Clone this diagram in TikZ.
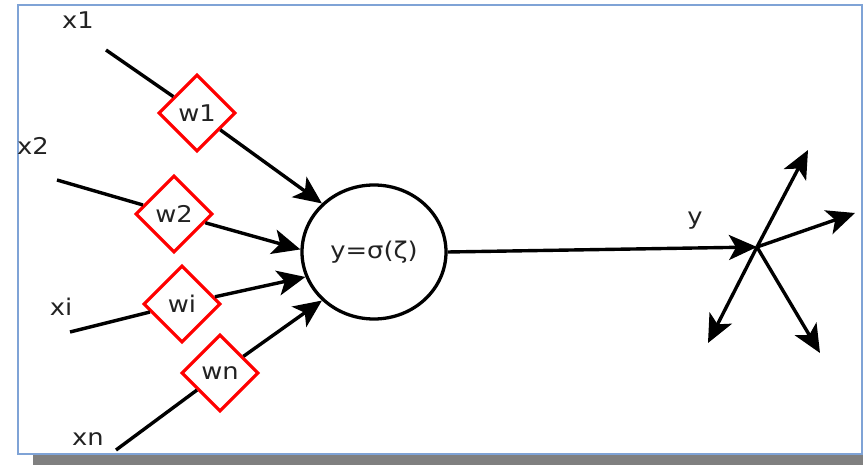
\documentclass[tikz,border=0pt]{standalone}
\usepackage{fontspec}
\setmainfont[FakeStretch=1.12]{DejaVu Sans}
\usetikzlibrary{shapes.geometric,arrows.meta}
\definecolor{framecol}{HTML}{7FA3D6}
\definecolor{shadowcol}{HTML}{808080}
\definecolor{txtcol}{HTML}{222222}
\tikzset{
  weight/.style={diamond,draw=red,line width=3.2pt,fill=white,minimum width=77pt,minimum height=77pt,inner sep=0pt,font=\fontsize{23}{23}\selectfont,text=txtcol},
  lbl/.style={inner sep=0pt,font=\fontsize{23}{23}\selectfont,text=txtcol},
  arr/.style={line width=3.4pt,-{Stealth[length=28pt,width=25pt,inset=7pt]}},
  neuronsty/.style={ellipse,draw,line width=3.3pt,minimum width=144pt,minimum height=134pt,inner sep=0pt,font=\fontsize{23}{23}\selectfont,text=txtcol}
}
\begin{document}
\begin{tikzpicture}[x=1pt,y=-1pt]
\useasboundingbox (0,0) rectangle (863,465);
\fill[shadowcol] (33,455) rectangle (863,465);
\draw[framecol,line width=1.2pt] (18,5) rectangle (862,454);

\node[neuronsty] (neuron) at (374,252) {y=σ(ζ)};

\node[weight] (w1) at (197,113) {w1};
\node[weight] (w2) at (174,214) {w2};
\node[weight] (wi) at (182,304) {wi};
\node[weight] (wn) at (220,373) {wn};

\coordinate (s1) at (106,50);
\coordinate (s2) at (57,180);
\coordinate (si) at (70,332);
\coordinate (sn) at (116,450);

\node[lbl] (x1) at (78,20) {x1};
\node[lbl] (x2) at (33,146) {x2};
\node[lbl] (xi) at (61,307) {xi};
\node[lbl] (xn) at (88,439) {xn};
\node[lbl] (y) at (695,221) {y};

\draw[arr] (s1) -- (w1) -- (neuron.137);
\draw[arr] (s2) -- (w2) -- (neuron.178);
\draw[arr] (si) -- (wi) -- (neuron.200);
\draw[arr] (sn) -- (wn) -- (neuron.223);

\coordinate (hub) at (757,247);
\coordinate (o1) at (808,150);
\coordinate (o2) at (855,213);
\coordinate (o3) at (708,343);
\coordinate (o4) at (820,353);

\draw[arr] (neuron.east) -- (hub);
\draw[arr] (hub) -- (o1);
\draw[arr] (hub) -- (o2);
\draw[arr] (hub) -- (o3);
\draw[arr] (hub) -- (o4);
\end{tikzpicture}
\end{document}
